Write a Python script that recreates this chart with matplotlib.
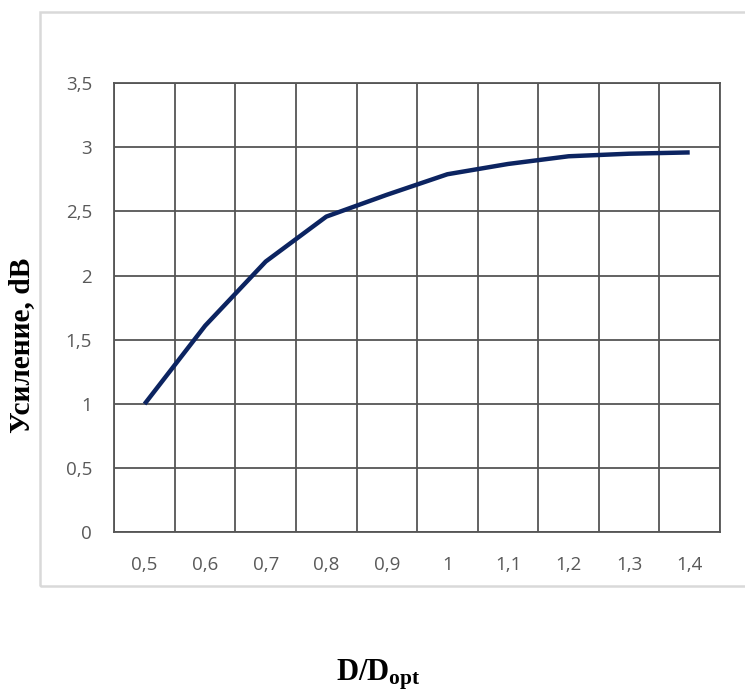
import matplotlib
matplotlib.use("Agg")
import matplotlib.pyplot as plt
import numpy as np
from matplotlib.patches import Rectangle

categories = ["0,5", "0,6", "0,7", "0,8", "0,9", "1", "1,1", "1,2", "1,3", "1,4"]
gain = [1.0, 1.61, 2.11, 2.46, 2.63, 2.79, 2.87, 2.93, 2.95, 2.96]
ytick_vals = [0, 0.5, 1, 1.5, 2, 2.5, 3, 3.5]
ytick_labels = ["0", "0,5", "1", "1,5", "2", "2,5", "3", "3,5"]

plt.rcParams['mathtext.fontset'] = 'custom'
plt.rcParams['mathtext.rm'] = 'Liberation Serif:bold'
plt.rcParams['mathtext.bf'] = 'Liberation Serif:bold'
plt.rcParams['mathtext.it'] = 'Liberation Serif:bold'

fig = plt.figure(figsize=(7.45, 6.91), dpi=100)
fig.patch.set_facecolor("white")

# outer chart border
fig.patches.append(Rectangle((40/745, (691-586)/691), 1.0, (586-12)/691,
                             transform=fig.transFigure, fill=False,
                             edgecolor="#d9d9d9", linewidth=1.8, zorder=0))

ax = fig.add_axes([114.3/745, (691-532.4)/691, 605.7/745, (532.4-83.1)/691])

x = np.arange(len(categories))
ax.plot(x, gain, color="#0c2461", linewidth=3.2, solid_capstyle="butt", zorder=3)

ax.set_xlim(-0.5, len(categories) - 0.5)
ax.set_ylim(0, 3.5)
ax.set_xticks(x)
ax.set_xticklabels(categories)
ax.set_xticks(np.arange(-0.5, len(categories), 1.0), minor=True)
ax.set_yticks(ytick_vals)
ax.set_yticklabels(ytick_labels)

ax.grid(True, which="minor", axis="x", color="#555555", linewidth=1.3)
ax.grid(True, which="major", axis="y", color="#555555", linewidth=1.3)
ax.grid(False, which="major", axis="x")
for s in ax.spines.values():
    s.set_color("#555555")
    s.set_linewidth(1.3)

ax.tick_params(axis="both", which="both", length=0)
ax.tick_params(axis="x", pad=17)
ax.tick_params(axis="y", pad=16)
for lab in ax.get_xticklabels() + ax.get_yticklabels():
    lab.set_fontfamily("Open Sans")
    lab.set_fontsize(13.5)
    lab.set_color("#595959")

fig.text(22/745, 1 - 345/691, "Усиление, dB", rotation=90, ha="center", va="center",
         fontsize=21.2, fontweight="bold", family="Liberation Serif")
fig.text(378/745, 1 - 675/691, r"D/D$_{\mathrm{opt}}$", ha="center", va="center",
         fontsize=22, fontweight="bold", family="Liberation Serif")

fig.savefig("out.png", dpi=100)
